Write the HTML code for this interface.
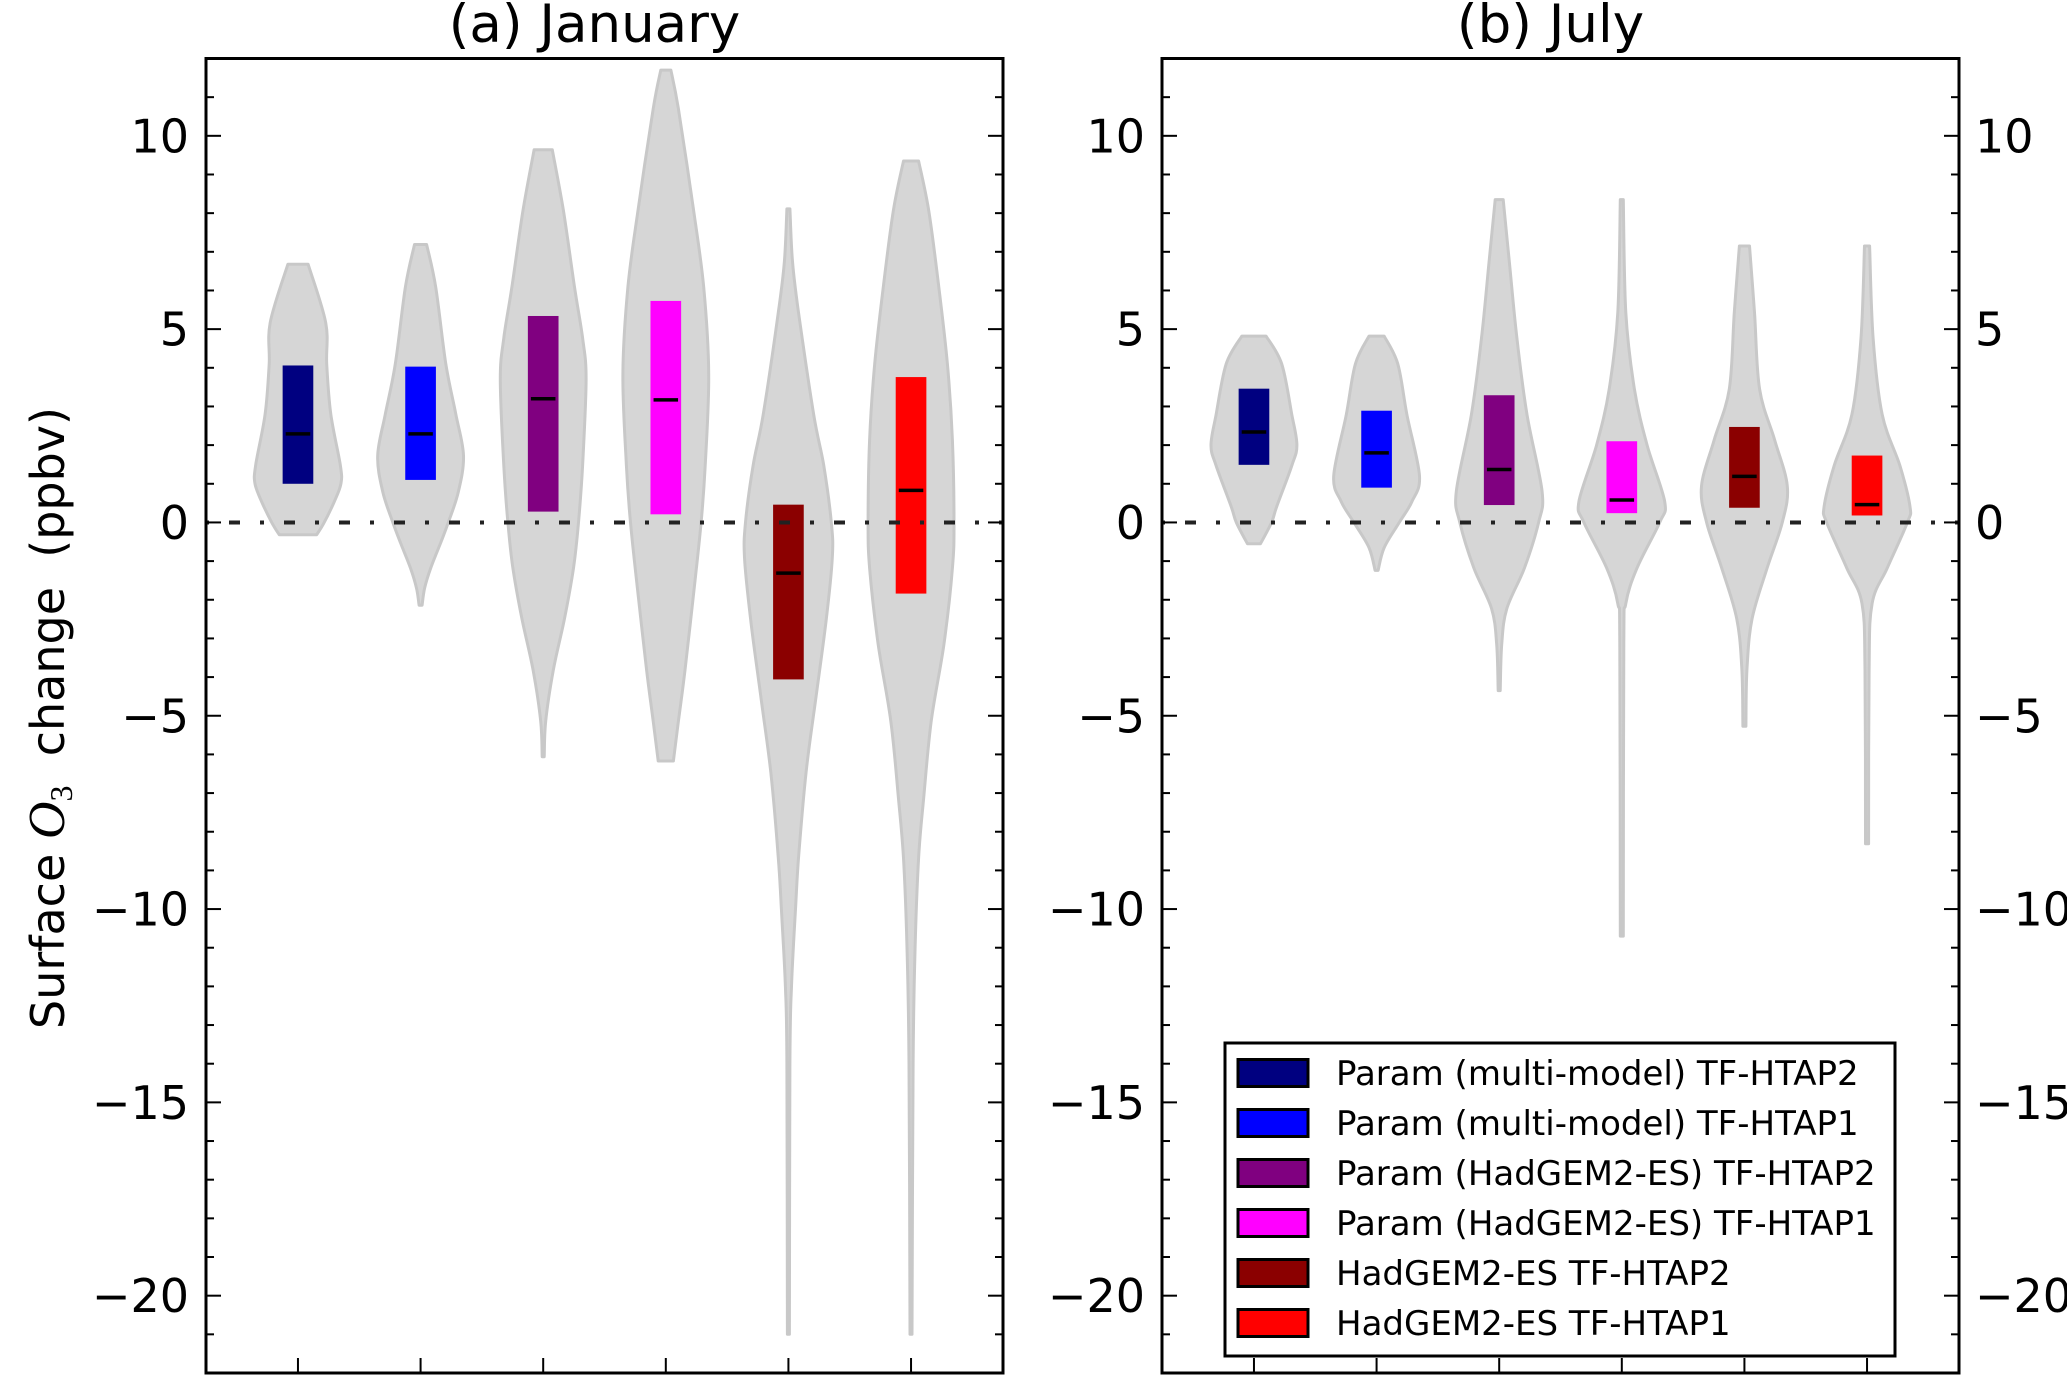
<!DOCTYPE html>
<html><head><meta charset="utf-8"><style>
html,body{margin:0;padding:0;background:#fff;}
svg{display:block;font-family:"DejaVu Sans","Liberation Sans",sans-serif;}
</style></head>
<body>
<svg id="chart" width="2067" height="1383" viewBox="0 0 2067 1383" xmlns="http://www.w3.org/2000/svg">
<rect width="2067" height="1383" fill="#fff"/>
<g id="root"></g>
</svg>
<script>
// ---- data ----
const seriesNames = ["Param (multi-model) TF-HTAP2","Param (multi-model) TF-HTAP1","Param (HadGEM2-ES) TF-HTAP2","Param (HadGEM2-ES) TF-HTAP1","HadGEM2-ES TF-HTAP2","HadGEM2-ES TF-HTAP1"];
const seriesColors = ["#000080","#0000ff","#800080","#ff00ff","#8b0000","#ff0000"];
const yTicks = [10,5,0,-5,-10,-15,-20];
const yTickLabels = ["10","5","0","\u22125","\u221210","\u221215","\u221220"];
const janBoxLow = [1.0,1.1,0.28,0.21,-4.06,-1.84];
const janBoxHigh = [4.06,4.03,5.34,5.73,0.46,3.76];
const janMedian = [2.29,2.29,3.2,3.17,-1.31,0.83];
const julBoxLow = [1.49,0.9,0.45,0.24,0.38,0.18];
const julBoxHigh = [3.46,2.89,3.29,2.1,2.47,1.73];
const julMedian = [2.34,1.8,1.37,0.58,1.19,0.46];
const janViolinVals = [
 [6.68,5.17,4.1,2.8,1.47,1.0,0.54,0,-0.32],
 [7.19,6.09,4.1,2.79,1.73,0.8,0,-0.52,-1.18,-1.7,-2.14],
 [9.64,8.07,6.09,4.77,3.71,1.47,0,-1.18,-2.5,-3.82,-5.14,-6.06],
 [11.7,10.7,8.07,6.09,3.84,1.47,0,-1.84,-3.82,-5.14,-6.17],
 [8.11,6.75,5.43,2.79,1.47,0,-0.91,-2.5,-4.48,-6.46,-8.68,-10,-12,-14,-21],
 [9.35,8.07,6.09,4.1,2.13,0,-1.18,-3.16,-5.14,-7.12,-8.68,-11,-14,-21]
];
const janViolinW = [
 [20,55,57,65,84,85,72,52,37],
 [12,30,50,70,85,75,55,40,20,8,3],
 [18,40,62,78,85,78,70,60,42,20,5,2],
 [10,25,55,75,85,78,70,55,38,25,15],
 [3,8,20,50,70,85,87,75,55,35,20,14,6,3,2],
 [15,35,55,72,82,85,82,65,40,25,15,8,4,2]
];
const julViolinVals = [
 [4.82,4.1,2.79,2.0,1.47,0.41,0,-0.55],
 [4.82,4.1,2.79,1.2,0.54,0,-0.65,-1.24],
 [8.35,6.75,4.77,2.79,0.8,0,-1.18,-2.23,-3.16,-4.35],
 [8.35,5.43,3.45,2.0,0.54,0,-1.18,-2.1,-3.16,-10.7],
 [7.15,5.43,3.45,2.13,0.94,0,-1.18,-2.5,-3.82,-5.27],
 [7.15,4.77,2.79,1.47,0.41,0,-1.18,-2.1,-3.82,-8.31]
];
const julViolinW = [
 [24,55,75,85,75,45,35,13],
 [15,42,60,85,70,45,15,3],
 [8,20,35,55,85,78,50,15,5,2],
 [3,8,25,50,85,75,30,8,4,3],
 [10,20,30,60,85,75,45,15,5,3],
 [5,12,30,65,85,80,40,10,4,3]
];
const panelTitles = ["(a) January","(b) July"];

// ---- layout ----
const NS="http://www.w3.org/2000/svg";
const root=document.getElementById('root');
function mk(tag,attrs,parent){const e=document.createElementNS(NS,tag);for(const k in attrs)e.setAttribute(k,attrs[k]);(parent||root).appendChild(e);return e;}
const TOP=58.5,BOT=1373,YMIN=-22,YMAX=12;
function yS(v){return TOP+(YMAX-v)/(YMAX-YMIN)*(BOT-TOP);}
const panels=[{x0:206,x1:1003},{x0:1162,x1:1959}];
const XMIN=0.25,XMAX=6.75;
const maxHalf=0.35, boxHalf=0.125, refW=85;

// smooth curve through points (Catmull-Rom -> Bezier)
function smooth(pts){
  let d='';
  for(let i=0;i<pts.length-1;i++){
    const p0=pts[Math.max(0,i-1)],p1=pts[i],p2=pts[i+1],p3=pts[Math.min(pts.length-1,i+2)];
    const c1=[p1[0]+(p2[0]-p0[0])/6,p1[1]+(p2[1]-p0[1])/6];
    const c2=[p2[0]-(p3[0]-p1[0])/6,p2[1]-(p3[1]-p1[1])/6];
    d+=' C'+c1[0].toFixed(1)+','+c1[1].toFixed(1)+' '+c2[0].toFixed(1)+','+c2[1].toFixed(1)+' '+p2[0].toFixed(1)+','+p2[1].toFixed(1);
  }
  return d;
}

function drawPanel(pi,vals,ws,lo,hi,med){
  const P=panels[pi];
  const xS=v=>P.x0+(v-XMIN)/(XMAX-XMIN)*(P.x1-P.x0);
  const unit=(P.x1-P.x0)/(XMAX-XMIN);
  const g=mk('g',{});
  
  
  for(let i=0;i<vals.length;i++){
    const cx=xS(i+1);
    const right=[],left=[];
    for(let j=0;j<vals[i].length;j++){
      const hw=ws[i][j]/refW*maxHalf*unit;
      right.push([cx+hw,yS(vals[i][j])]);
      left.unshift([cx-hw,yS(vals[i][j])]);
    }
    let d='M'+right[0][0].toFixed(1)+','+right[0][1].toFixed(1)+smooth(right);
    d+=' L'+left[0][0].toFixed(1)+','+left[0][1].toFixed(1)+smooth(left)+' Z';
    const v=mk('path',{d:d,fill:'#d6d6d6',stroke:'#c8c8c8','stroke-width':3,'stroke-linejoin':'round'},g);
    
    
  }
  for(let i=0;i<vals.length;i++){
    const cx=xS(i+1),bw=boxHalf*unit;
    const b=mk('rect',{x:cx-bw,y:yS(hi[i]),width:2*bw,height:yS(lo[i])-yS(hi[i]),fill:seriesColors[i]},g);
    
    
    const m=mk('line',{x1:cx-bw*0.8,x2:cx+bw*0.8,y1:yS(med[i]),y2:yS(med[i]),stroke:'#000','stroke-width':3.5},g);
    
    
  }
  const z=mk('line',{x1:P.x0,x2:P.x1,y1:yS(0),y2:yS(0),stroke:'#222','stroke-width':4,'stroke-dasharray':'11 20 4 20','stroke-dashoffset':32},g);
  
  
  for(let v=YMIN;v<=YMAX;v++){
    const L=(v%5==0)?15:8,y=yS(v);
    mk('line',{x1:P.x0,x2:P.x0+L,y1:y,y2:y,stroke:'#000','stroke-width':2},g);
    mk('line',{x1:P.x1,x2:P.x1-L,y1:y,y2:y,stroke:'#000','stroke-width':2},g);
  }
  for(let i=1;i<=6;i++){const x=xS(i);mk('line',{x1:x,x2:x,y1:BOT,y2:BOT-15,stroke:'#000','stroke-width':2},g);}
  for(let k=0;k<yTicks.length;k++){
    const y=yS(yTicks[k])+16.5;
    const t=mk('text',{x:P.x0-17,y:y,'text-anchor':'end','font-size':46,fill:'#000'},g);
    t.textContent=yTickLabels[k];
    
    
    if(pi==1){
      const t2=mk('text',{x:P.x1+16,y:y,'text-anchor':'start','font-size':46,fill:'#000'},g);
      t2.textContent=yTickLabels[k];
      
      
    }
  }
  const fr=mk('rect',{x:P.x0,y:TOP,width:P.x1-P.x0,height:BOT-TOP,fill:'none',stroke:'#000','stroke-width':3},g);
  
  
  const tt=mk('text',{x:(P.x0+P.x1)/2-10,y:42,'text-anchor':'middle','font-size':53,fill:'#000'},g);
  tt.textContent=panelTitles[pi];
  
  
}
drawPanel(0,janViolinVals,janViolinW,janBoxLow,janBoxHigh,janMedian);
drawPanel(1,julViolinVals,julViolinW,julBoxLow,julBoxHigh,julMedian);

const yl=mk('text',{transform:'translate(64,718) rotate(-90)','text-anchor':'middle','font-size':46,fill:'#000'});


yl.setAttribute('xml:space','preserve');
yl.innerHTML='Surface <tspan font-family="Liberation Serif, serif" font-style="italic" font-size="52">O</tspan><tspan font-family="Liberation Serif, serif" font-size="32" dy="8">3</tspan><tspan dy="-8">\u00a0\u00a0change\u00a0\u00a0(ppbv)</tspan>';

const lg=mk('g',{});


mk('rect',{x:1225,y:1043,width:670,height:313,fill:'#fff',stroke:'#000','stroke-width':3},lg);
for(let i=0;i<seriesNames.length;i++){
  const cy=1073+i*50;
  const e=mk('g',{},lg);
  
  
  mk('rect',{x:1238,y:cy-13.5,width:70,height:27,fill:seriesColors[i],stroke:'#000','stroke-width':3},e);
  const t=mk('text',{x:1336,y:cy+12,'font-size':34,fill:'#000'},e);
  t.textContent=seriesNames[i];
}
</script>
</body></html>
